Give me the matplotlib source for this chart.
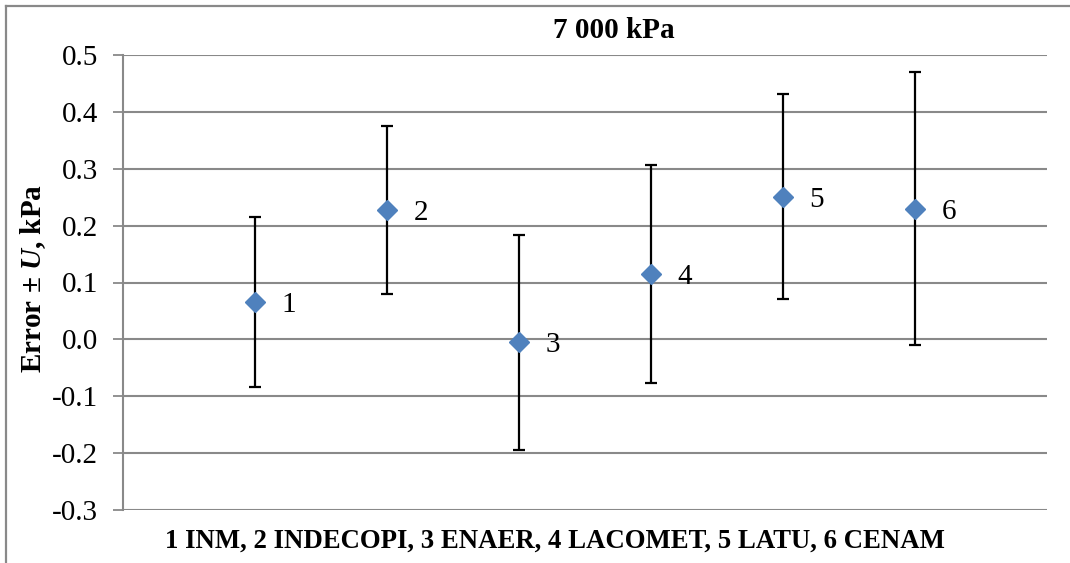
import matplotlib
matplotlib.use("Agg")
import matplotlib.pyplot as plt
from matplotlib.lines import Line2D

plt.rcParams['font.family'] = ['Liberation Serif', 'DejaVu Serif']
plt.rcParams['mathtext.fontset'] = 'custom'
plt.rcParams['mathtext.it'] = 'Liberation Serif:style=italic:weight=bold'
plt.rcParams['mathtext.rm'] = 'Liberation Serif:weight=bold'
plt.rcParams['mathtext.bf'] = 'Liberation Serif:weight=bold'

# Data
point_labels = ['1', '2', '3', '4', '5', '6']
positions = [1, 2, 3, 4, 5, 6]
errors = [0.066, 0.227, -0.005, 0.115, 0.251, 0.230]
uncertainty = [0.150, 0.148, 0.189, 0.191, 0.180, 0.240]
yticks = [-0.3, -0.2, -0.1, 0.0, 0.1, 0.2, 0.3, 0.4, 0.5]
ytick_labels = ['-0.3', '-0.2', '-0.1', '0.0', '0.1', '0.2', '0.3', '0.4', '0.5']
title = '7 000 kPa'
xlabel = '1 INM, 2 INDECOPI, 3 ENAER, 4 LACOMET, 5 LATU, 6 CENAM'
ylabel = r'Error ± $U$, kPa'

GRID = '#898989'
BLUE = '#4F81BD'
FS = 21

fig = plt.figure(figsize=(10.70, 5.63), dpi=100)
ax = fig.add_axes([123/1070, 1-510/563, (1047-123)/1070, (510-55)/563])

ax.set_xlim(0, 7)
ax.set_ylim(-0.3, 0.5)

ax.errorbar(positions, errors, yerr=uncertainty, fmt='none', ecolor='black',
            elinewidth=1.6, capsize=4.5, capthick=1.6, zorder=3)
ax.plot(positions, errors, linestyle='none', marker='D', markersize=10.5,
        color=BLUE, markeredgecolor=BLUE, zorder=4)

for xp, yp, lab in zip(positions, errors, point_labels):
    ax.annotate(lab, (xp, yp), xytext=(19, 0), textcoords='offset points',
                ha='left', va='center_baseline', fontsize=FS, zorder=5)

ax.set_yticks(yticks)
ax.set_yticklabels(ytick_labels, fontsize=FS)
ax.set_xticks([])
ax.yaxis.grid(True, color=GRID, linewidth=1.5)
ax.set_axisbelow(True)
ax.tick_params(axis='y', length=7, width=1.3, color=GRID, pad=11)

for side in ['top', 'right', 'bottom']:
    ax.spines[side].set_visible(False)
ax.spines['left'].set_color(GRID)
ax.spines['left'].set_linewidth(1.5)

fig.text(614/1070, 1-30/563, title, ha='center', va='center',
         fontsize=FS, fontweight='bold')
fig.text(555/1070, 1-541/563, xlabel, ha='center', va='center',
         fontsize=19.3, fontweight='bold')
fig.text(33/1070, 1-278/563, ylabel, ha='center', va='center',
         rotation=90, fontsize=FS, fontweight='bold')

# Chart area border (left and top visible)
fig.add_artist(Line2D([5.5/1070, 5.5/1070], [0, 1-5.5/563], transform=fig.transFigure,
                      color=GRID, linewidth=1.6))
fig.add_artist(Line2D([5.5/1070, 1], [1-5.5/563, 1-5.5/563], transform=fig.transFigure,
                      color=GRID, linewidth=1.6))

fig.savefig('out.png', dpi=100, facecolor='white')
